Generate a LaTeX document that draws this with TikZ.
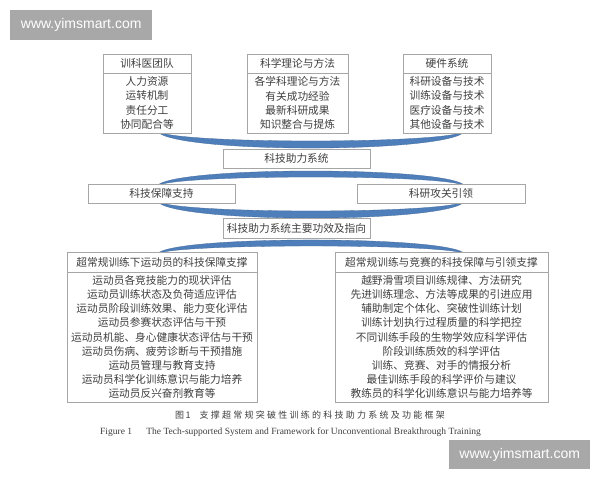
\documentclass[tikz,border=0pt]{standalone}
\usepackage{fontspec}
\setmainfont{Liberation Serif}
\newfontfamily\cjk{Noto Sans CJK SC}
\newfontfamily\wmfont{Liberation Sans}
\usetikzlibrary{calc}
\definecolor{boxline}{HTML}{A6A6A6}
\definecolor{txtc}{HTML}{3F3F3F}
\definecolor{arcblue}{HTML}{4F7FBA}
\definecolor{arcedge}{HTML}{3E6698}
\definecolor{wmgray}{HTML}{A8A8A8}
\begin{document}
\begin{tikzpicture}[x=1pt,y=-1pt,
  box/.style={draw=boxline,line width=0.8pt,fill=white,inner sep=0pt,text=txtc},
  zh/.style={font=\cjk\fontsize{10.7}{14.2}\selectfont,align=center},
  crescent/.style={fill=arcblue,draw=arcedge,line width=0.3pt},
  wm/.style={fill=wmgray,text=white,font=\wmfont\fontsize{14}{16}\selectfont,inner sep=0pt}]
\useasboundingbox[fill=white] (0,0) rectangle (600,480);

% arc end coordinates
\coordinate (a1l) at (157,131); \coordinate (a1r) at (465,131);
\coordinate (a2l) at (157,186); \coordinate (a2r) at (465,186);
\coordinate (a3l) at (157,201); \coordinate (a3r) at (465,201);
\coordinate (a4l) at (157,254); \coordinate (a4r) at (465,254);

\filldraw[crescent] (a1l) .. controls ($(a1l)+(14,22.7)$) and ($(a1r)+(-14,22.7)$) .. (a1r)
  .. controls ($(a1r)+(-14,13.3)$) and ($(a1l)+(14,13.3)$) .. cycle;
\filldraw[crescent] (a2l) .. controls ($(a2l)+(14,-20)$) and ($(a2r)+(-14,-20)$) .. (a2r)
  .. controls ($(a2r)+(-14,-12)$) and ($(a2l)+(14,-12)$) .. cycle;
\filldraw[crescent] (a3l) .. controls ($(a3l)+(14,22.7)$) and ($(a3r)+(-14,22.7)$) .. (a3r)
  .. controls ($(a3r)+(-14,13.3)$) and ($(a3l)+(14,13.3)$) .. cycle;
\filldraw[crescent] (a4l) .. controls ($(a4l)+(14,-18.7)$) and ($(a4r)+(-14,-18.7)$) .. (a4r)
  .. controls ($(a4r)+(-14,-10.7)$) and ($(a4l)+(14,-10.7)$) .. cycle;

% top boxes
\node[box,zh,minimum width=88pt,minimum height=19pt] (t1h) at (147,63.5) {训科医团队};
\node[box,zh,minimum width=88pt,minimum height=60pt] (t1b) at (147,103) {人力资源\\运转机制\\责任分工\\协同配合等};
\node[box,zh,minimum width=101pt,minimum height=19pt] (t2h) at (297.5,63.5) {科学理论与方法};
\node[box,zh,minimum width=101pt,minimum height=60pt] (t2b) at (297.5,103) {各学科理论与方法\\有关成功经验\\最新科研成果\\知识整合与提炼};
\node[box,zh,minimum width=88pt,minimum height=19pt] (t3h) at (447,63.5) {硬件系统};
\node[box,zh,minimum width=88pt,minimum height=60pt] (t3b) at (447,103) {科研设备与技术\\训练设备与技术\\医疗设备与技术\\其他设备与技术};

% middle boxes
\node[box,zh,minimum width=147pt,minimum height=19pt] (sys) at (296.5,158.5) {科技助力系统};
\node[box,zh,minimum width=147pt,minimum height=19pt] (supp) at (161.5,193.5) {科技保障支持};
\node[box,zh,minimum width=168pt,minimum height=19pt] (lead) at (441,193.5) {科研攻关引领};
\node[box,zh,minimum width=147pt,minimum height=20pt] (func) at (296.5,228) {科技助力系统主要功效及指向};

% big boxes
\node[box,zh,minimum width=190pt,minimum height=20pt] (lh) at (162,262) {超常规训练下运动员的科技保障支撑};
\node[box,zh,minimum width=190pt,minimum height=130pt] (lb) at (162,337) {运动员各竞技能力的现状评估\\运动员训练状态及负荷适应评估\\运动员阶段训练效果、能力变化评估\\运动员参赛状态评估与干预\\运动员机能、身心健康状态评估与干预\\运动员伤病、疲劳诊断与干预措施\\运动员管理与教育支持\\运动员科学化训练意识与能力培养\\运动员反兴奋剂教育等};
\node[box,zh,minimum width=213pt,minimum height=20pt] (rh) at (441.5,262) {超常规训练与竞赛的科技保障与引领支撑};
\node[box,zh,minimum width=213pt,minimum height=130pt] (rb) at (441.5,337) {越野滑雪项目训练规律、方法研究\\先进训练理念、方法等成果的引进应用\\辅助制定个体化、突破性训练计划\\训练计划执行过程质量的科学把控\\不同训练手段的生物学效应科学评估\\阶段训练质效的科学评估\\训练、竞赛、对手的情报分析\\最佳训练手段的科学评价与建议\\教练员的科学化训练意识与能力培养等};

% captions
\node[anchor=west,text=txtc,inner sep=0pt,font=\cjk\fontsize{9}{11}\selectfont\addfontfeatures{LetterSpace=25}] (cap1) at (175,415) {图\,1\quad 支撑超常规突破性训练的科技助力系统及功能框架};
\node[anchor=west,text=txtc,inner sep=0pt,font=\fontsize{9.5}{11}\selectfont] (cap2) at (100,432) {Figure 1\hspace{1.5em}The Tech-supported System and Framework for Unconventional Breakthrough Training};

% watermarks
\node[wm,minimum width=142pt,minimum height=30pt,anchor=north west] (wm1) at (10,10) {www.yimsmart.com};
\node[wm,minimum width=141pt,minimum height=29pt,anchor=north west] (wm2) at (449,440) {www.yimsmart.com};
\end{tikzpicture}
\end{document}
